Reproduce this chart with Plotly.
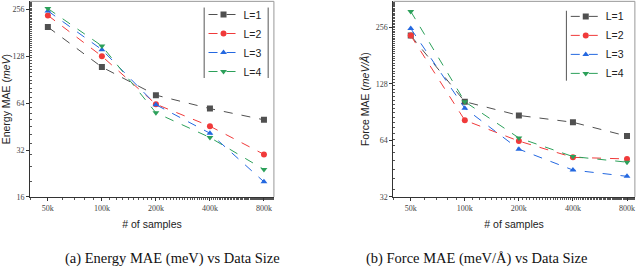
import plotly.graph_objects as go
import math

samples = [50000, 100000, 200000, 400000, 800000]
x_ticklabels = ["50k", "100k", "200k", "400k", "800k"]
series_names = ["L=1", "L=2", "L=3", "L=4"]

energy_L1 = [197, 109, 72, 59, 50]
energy_L2 = [234, 128, 63, 45.5, 30]
energy_L3 = [250, 141, 62.5, 41, 20]
energy_L4 = [259, 149, 55.5, 38.5, 24]

force_L1 = [232, 103, 87, 80, 67.5]
force_L2 = [232, 82, 63.5, 52, 51]
force_L3 = [253, 95, 57.5, 44.5, 41.2]
force_L4 = [312, 103, 66, 52.5, 49]

energy_yticks = [16, 32, 64, 128, 256]
force_yticks = [32, 64, 128, 256]

colors = ["#505050", "#f03a3a", "#2468e0", "#2ca05a"]
symbols = ["square", "circle", "triangle-up", "triangle-down"]

fig = go.Figure()
energy = [energy_L1, energy_L2, energy_L3, energy_L4]
force = [force_L1, force_L2, force_L3, force_L4]
for i, name in enumerate(series_names):
    fig.add_trace(go.Scatter(x=samples, y=energy[i], name=name, mode="lines+markers",
                             line=dict(color=colors[i], dash="dash", width=1),
                             marker=dict(symbol=symbols[i], size=6, color=colors[i]),
                             xaxis="x", yaxis="y", legend="legend"))
for i, name in enumerate(series_names):
    fig.add_trace(go.Scatter(x=samples, y=force[i], name=name, mode="lines+markers",
                             line=dict(color=colors[i], dash="dash", width=1),
                             marker=dict(symbol=symbols[i], size=6, color=colors[i]),
                             xaxis="x2", yaxis="y2", legend="legend2"))

tickfont = dict(family="Liberation Serif", size=8, color="#444")
titlefont = dict(family="Liberation Sans", size=10.5, color="#222")
common_x = dict(type="log", tickvals=samples, ticktext=x_ticklabels, tickfont=tickfont,
                ticks="outside", ticklen=3, tickcolor="#333", showline=True, linecolor="#333",
                linewidth=1, showgrid=False, zeroline=False, automargin=False,
                title=dict(text="# of samples", font=titlefont, standoff=9),
                minor=dict(ticks="outside", ticklen=2, tickcolor="#555", showgrid=False))
common_y = dict(type="log", tickfont=tickfont, ticks="outside", ticklen=3, tickcolor="#333",
                showline=True, linecolor="#333", linewidth=1, showgrid=False, zeroline=False,
                automargin=False,
                minor=dict(ticks="inside", ticklen=2, tickcolor="#555", showgrid=False))

LX = [0.047, 0.428]
RX = [0.6146, 0.992]
YD = [0.268, 0.995]

legfont = dict(family="Liberation Sans", size=10.5, color="#222")
fig.update_layout(
    width=640, height=269,
    margin=dict(l=0, r=0, t=0, b=0, autoexpand=False),
    paper_bgcolor="white", plot_bgcolor="white",
    xaxis=dict(common_x, domain=LX, range=[math.log10(39800), math.log10(909000)], anchor="y"),
    yaxis=dict(common_y, domain=YD, range=[math.log10(16), math.log10(288)],
               tickvals=energy_yticks, ticktext=[str(v) for v in energy_yticks],
               title=dict(text="Energy MAE (<i>meV</i>)", font=titlefont, standoff=4), anchor="x"),
    xaxis2=dict(common_x, domain=RX, range=[math.log10(40000), math.log10(885000)], anchor="y2"),
    yaxis2=dict(common_y, domain=YD, range=[math.log10(32), math.log10(353)],
                tickvals=force_yticks, ticktext=[str(v) for v in force_yticks],
                title=dict(text="Force MAE (<i>meV/Å</i>)", font=titlefont, standoff=4), anchor="x2"),
    legend=dict(x=0.318, y=1.0, xanchor="left", yanchor="top", bgcolor="rgba(0,0,0,0)",
                font=legfont, tracegroupgap=0, itemwidth=30),
    legend2=dict(x=0.884, y=0.993, xanchor="left", yanchor="top", bgcolor="rgba(0,0,0,0)",
                 font=legfont, tracegroupgap=0, itemwidth=30),
    showlegend=True,
    annotations=[
        dict(text="(a) Energy MAE (meV) vs Data Size", x=0.269, y=0, xref="paper", yref="paper",
             xanchor="center", yanchor="bottom", showarrow=False,
             font=dict(family="Liberation Serif", size=14.5, color="#111")),
        dict(text="(b) Force MAE (meV/Å) vs Data Size", x=0.744, y=0, xref="paper", yref="paper",
             xanchor="center", yanchor="bottom", showarrow=False,
             font=dict(family="Liberation Serif", size=14.5, color="#111")),
    ],
)

shapes = [
    dict(type="line", xref="paper", yref="paper", x0=LX[0], x1=LX[1], y0=YD[1], y1=YD[1], line=dict(color="#999", width=1)),
    dict(type="line", xref="paper", yref="paper", x0=LX[1], x1=LX[1], y0=YD[0], y1=YD[1], line=dict(color="#999", width=1)),
    dict(type="line", xref="paper", yref="paper", x0=RX[0], x1=RX[1], y0=YD[1], y1=YD[1], line=dict(color="#999", width=1)),
    dict(type="line", xref="paper", yref="paper", x0=RX[1], x1=RX[1], y0=YD[0], y1=YD[1], line=dict(color="#999", width=1)),
    dict(type="line", xref="paper", yref="paper", x0=0.319, x1=0.319, y0=0.71, y1=0.972, line=dict(color="#555", width=1)),
    dict(type="line", xref="paper", yref="paper", x0=0.419, x1=0.419, y0=0.71, y1=0.972, line=dict(color="#555", width=1)),
    dict(type="line", xref="paper", yref="paper", x0=0.885, x1=0.885, y0=0.70, y1=0.96, line=dict(color="#555", width=1)),
]
fig.update_layout(shapes=shapes)
fig.write_html("out.html", config={"displayModeBar": False},
               post_script="document.body.style.margin='0';document.body.style.overflow='hidden';")
